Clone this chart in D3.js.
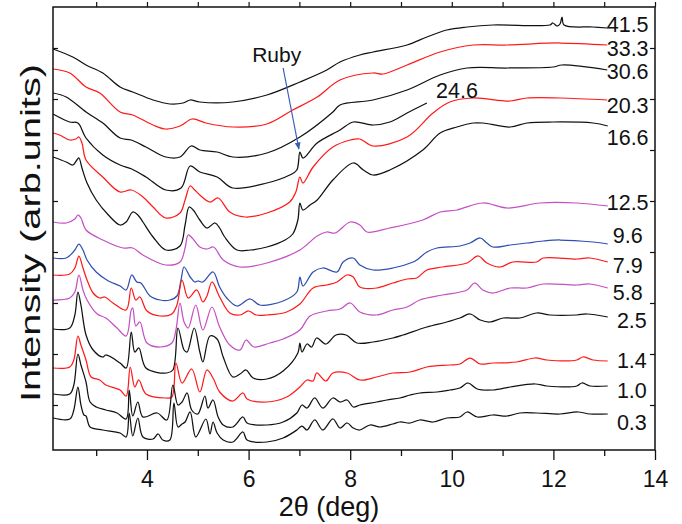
<!DOCTYPE html>
<html><head><meta charset="utf-8">
<script src="https://cdn.jsdelivr.net/npm/d3@7"></script>
<style>body{margin:0;background:#fff}svg{display:block}</style>
</head><body>
<svg id="c" width="682" height="524"></svg>
<script>
// ---------- DATA (2θ in deg, intensity in arb. units) ----------
const pressures = ["41.5","33.3","30.6","24.6","20.3","16.6","12.5","9.6","7.9","5.8","2.5","1.4","1.0","0.3"];
const xTickLabels = [4, 6, 8, 10, 12, 14];
const xMinorTicks = [3, 5, 7, 9, 11, 13];
const yTicks = [51, 102, 153, 204, 255, 306, 357, 408];

const p41_5 = [[2.15,407],[2.54,399],[2.8,391],[3.13,383],[3.47,369],[3.72,364],[4.12,356],[4.45,352],[4.71,353],[4.85,356],[5.04,354],[5.69,354],[6.36,361],[7.01,374],[7.54,386],[7.8,394],[8.19,401],[8.45,404],[9.12,411],[9.51,419],[9.9,426],[10.3,429],[10.81,431],[11.93,431],[11.99,433],[12.07,430],[12.13,432],[12.17,439],[12.21,431],[12.78,429],[13.07,428]];
const p33_3 = [[2.15,387],[2.48,383],[2.8,369],[3.07,363],[3.47,344],[3.72,341],[4.12,331],[4.37,327],[4.65,330],[4.89,337],[5.16,333],[5.69,329],[6.36,332],[6.87,346],[7.35,359],[7.8,376],[8.45,383],[8.65,382],[9.12,391],[9.77,404],[10.42,411],[11.09,411],[12.13,413],[13.06,411]];
const p30_6 = [[2.15,363],[2.41,359],[2.8,344],[3.13,333],[3.47,318],[3.69,316],[3.98,309],[4.37,299],[4.65,299],[4.87,310],[5.04,306],[5.38,304],[5.69,299],[6.36,303],[7.01,319],[7.66,344],[7.8,351],[8.45,356],[9.12,366],[9.77,381],[10.3,388],[11.09,388],[11.99,389],[12.17,391],[13.06,386]];
const p24_6 = [[2.15,342],[2.48,334],[2.64,333],[2.8,318],[3.13,301],[3.47,291],[3.7,287],[3.98,279],[4.37,266],[4.67,268],[4.85,290],[5.04,284],[5.38,279],[5.69,268],[6.36,273],[6.81,281],[6.95,286],[7.01,304],[7.07,298],[7.35,313],[7.8,326],[8.06,334],[8.45,331],[8.78,334],[9.12,343],[9.51,353]];
const p20_3 = [[2.15,323],[2.28,321],[2.48,316],[2.6,317],[2.66,319],[2.72,313],[2.8,296],[3.13,279],[3.47,264],[3.69,266],[3.92,259],[4.12,249],[4.37,238],[4.65,243],[4.75,256],[4.85,270],[4.94,266],[5.04,261],[5.24,254],[5.4,258],[5.63,244],[5.93,239],[6.36,243],[6.81,254],[6.93,264],[7.01,279],[7.07,273],[7.27,289],[7.66,309],[8.0,316],[8.19,317],[8.45,310],[9.12,319],[9.63,343],[9.96,354],[10.42,358],[11.15,355],[11.48,358],[12.13,358],[13.06,356]];
const p16_6 = [[2.15,299],[2.41,294],[2.54,291],[2.62,296],[2.66,298],[2.72,288],[2.82,273],[3.0,256],[3.24,241],[3.47,231],[3.59,234],[3.72,244],[3.82,241],[3.92,234],[4.12,219],[4.37,206],[4.65,210],[4.75,231],[4.83,249],[4.91,246],[5.04,236],[5.18,228],[5.34,233],[5.43,228],[5.53,219],[5.77,206],[6.03,206],[6.36,209],[6.72,216],[6.87,222],[6.97,236],[7.01,253],[7.07,246],[7.21,251],[7.35,256],[7.66,276],[8.06,293],[8.26,286],[8.45,281],[8.78,286],[9.43,306],[9.77,323],[10.1,329],[10.42,333],[10.61,333],[11.15,329],[11.48,333],[11.99,334],[12.78,333],[13.07,330]];
const p12_5 = [[2.15,234],[2.41,233],[2.58,237],[2.64,241],[2.7,238],[2.8,226],[3.13,216],[3.53,208],[3.72,208],[3.92,201],[4.37,191],[4.65,194],[4.75,208],[4.81,221],[4.89,218],[5.04,209],[5.18,207],[5.31,209],[5.5,196],[5.83,189],[6.36,193],[7.01,206],[7.35,220],[7.54,224],[7.7,223],[8.0,234],[8.19,231],[8.33,224],[8.78,228],[9.43,236],[9.77,244],[10.1,246],[10.61,253],[11.09,248],[11.74,253],[12.46,253],[13.07,250]];
const p9_6 = [[2.15,198],[2.41,198],[2.58,206],[2.66,212],[2.74,206],[2.82,196],[3.0,184],[3.24,175],[3.47,170],[3.59,166],[3.7,181],[3.8,174],[3.88,173],[4.06,160],[4.26,156],[4.45,156],[4.59,160],[4.67,176],[4.73,189],[4.85,179],[4.94,174],[5.0,175],[5.1,174],[5.3,184],[5.43,169],[5.57,158],[5.77,150],[6.03,157],[6.22,151],[6.68,155],[6.95,164],[7.01,179],[7.07,170],[7.27,184],[7.46,188],[7.74,184],[7.86,194],[8.06,198],[8.19,191],[8.45,186],[8.84,188],[9.24,194],[9.31,196],[9.51,204],[9.71,208],[10.16,210],[10.36,213],[10.56,218],[10.69,213],[10.81,209],[11.15,211],[11.48,213],[11.8,215],[12.13,216],[12.78,214],[13.07,212]];
const p7_9 = [[2.15,181],[2.48,182],[2.58,188],[2.66,200],[2.74,188],[2.82,176],[2.94,163],[3.07,158],[3.17,159],[3.33,153],[3.59,146],[3.69,168],[3.78,156],[3.86,159],[4.0,145],[4.26,140],[4.49,142],[4.59,151],[4.69,176],[4.81,158],[4.98,166],[5.1,154],[5.18,160],[5.28,174],[5.43,159],[5.63,143],[5.83,141],[6.0,145],[6.15,141],[6.36,141],[6.75,144],[7.01,152],[7.27,168],[7.54,171],[7.74,174],[7.94,181],[8.06,179],[8.19,169],[8.52,168],[8.84,173],[9.12,177],[9.31,178],[9.51,186],[9.82,189],[10.3,193],[10.52,200],[10.69,193],[10.95,189],[11.2,194],[11.67,194],[11.8,198],[12.46,197],[12.72,198],[13.07,194]];
const p5_8 = [[2.15,156],[2.48,158],[2.58,164],[2.66,181],[2.74,166],[2.82,156],[3.02,142],[3.19,138],[3.41,128],[3.59,120],[3.69,146],[3.72,148],[3.78,130],[3.86,134],[4.0,113],[4.26,109],[4.49,113],[4.57,126],[4.65,153],[4.73,134],[4.81,128],[4.96,151],[5.1,126],[5.28,149],[5.43,129],[5.63,111],[5.83,106],[5.95,116],[6.1,109],[6.42,113],[6.68,117],[7.01,126],[7.21,140],[7.54,145],[7.8,147],[8.0,153],[8.19,144],[8.52,141],[8.84,146],[9.12,149],[9.37,156],[9.82,161],[10.3,166],[10.45,173],[10.61,166],[10.81,163],[11.15,168],[11.48,168],[11.8,172],[12.46,171],[12.72,172],[13.07,168]];
const p2_5 = [[2.15,127],[2.48,128],[2.58,141],[2.64,164],[2.7,151],[2.8,121],[2.94,106],[3.13,99],[3.19,101],[3.47,93],[3.59,88],[3.69,124],[3.76,104],[3.84,108],[3.98,88],[4.39,83],[4.51,86],[4.61,128],[4.73,106],[4.79,104],[4.93,128],[5.04,104],[5.1,94],[5.24,120],[5.38,117],[5.5,99],[5.69,79],[5.83,82],[5.95,86],[6.09,78],[6.36,77],[6.68,85],[6.97,103],[7.01,113],[7.05,104],[7.15,112],[7.24,109],[7.34,118],[7.52,112],[7.72,121],[7.92,121],[8.13,113],[8.45,114],[8.84,118],[9.04,121],[9.51,129],[9.9,134],[10.16,138],[10.36,142],[10.56,136],[10.75,134],[11.01,138],[11.34,138],[11.67,143],[11.93,141],[12.46,141],[12.66,142],[13.07,139]];
const p1_4 = [[2.15,88],[2.48,89],[2.56,96],[2.64,120],[2.7,111],[2.8,96],[2.9,79],[3.07,76],[3.19,71],[3.47,66],[3.59,60],[3.67,89],[3.76,69],[3.84,76],[3.98,62],[4.37,58],[4.49,59],[4.57,93],[4.69,73],[4.88,87],[5.04,64],[5.18,86],[5.31,77],[5.43,64],[5.69,55],[5.89,63],[5.97,57],[6.36,54],[6.75,59],[7.01,69],[7.15,76],[7.27,75],[7.34,83],[7.52,75],[7.66,83],[7.94,83],[8.19,76],[8.52,79],[8.84,83],[9.18,84],[9.51,89],[9.96,91],[10.16,92],[10.36,98],[10.56,92],[10.81,93],[11.28,94],[11.64,98],[11.87,96],[12.46,96],[12.58,99],[12.78,96],[13.07,95]];
const p1_0 = [[2.15,62],[2.48,62],[2.56,71],[2.64,102],[2.7,91],[2.8,74],[2.88,54],[3.0,49],[3.19,46],[3.41,43],[3.59,37],[3.65,66],[3.72,40],[3.82,54],[3.92,39],[4.2,43],[4.39,36],[4.51,71],[4.61,51],[4.69,54],[4.79,63],[4.88,46],[5.0,42],[5.14,60],[5.2,48],[5.3,56],[5.4,39],[5.5,31],[5.69,29],[5.89,39],[5.97,33],[6.36,31],[6.68,34],[6.95,43],[7.05,51],[7.15,48],[7.3,58],[7.46,48],[7.66,58],[7.8,54],[7.94,56],[8.06,49],[8.19,51],[8.52,54],[8.72,56],[8.98,58],[9.18,61],[9.37,63],[9.71,64],[9.96,66],[10.16,68],[10.32,73],[10.5,67],[10.81,66],[11.15,69],[11.64,72],[11.87,70],[12.46,70],[12.56,73],[12.72,70],[13.07,70]];
const p0_3 = [[2.15,38],[2.48,37],[2.56,46],[2.64,69],[2.7,51],[2.76,41],[2.8,40],[2.88,29],[3.13,26],[3.47,23],[3.59,19],[3.65,43],[3.72,20],[3.82,38],[3.92,19],[4.12,17],[4.22,22],[4.31,16],[4.45,16],[4.53,53],[4.61,29],[4.69,32],[4.75,34],[4.85,44],[4.96,19],[5.16,37],[5.24,22],[5.3,34],[5.38,23],[5.5,16],[5.69,14],[5.89,24],[5.97,16],[6.36,14],[6.68,18],[6.95,26],[7.05,30],[7.15,26],[7.3,36],[7.46,26],[7.66,37],[7.8,28],[7.94,33],[8.06,28],[8.19,26],[8.39,31],[8.58,29],[8.84,32],[8.98,34],[9.18,33],[9.37,36],[9.63,34],[9.9,38],[10.16,39],[10.3,44],[10.5,39],[10.81,41],[11.09,40],[11.34,43],[11.67,43],[12.13,42],[12.48,44],[12.72,42],[13.07,42]];

const seriesValues = [p41_5,p33_3,p30_6,p24_6,p20_3,p16_6,p12_5,p9_6,p7_9,p5_8,p2_5,p1_4,p1_0,p0_3];

// ---------- STYLE / LAYOUT ----------
const K="#111", R="#ff1a1a", P="#c450c4", B="#2f4fb0";
const seriesColors = [K,R,K,K,R,K,P,B,R,P,K,R,K,K];
// label anchor points in data units (2θ, intensity)
const labelPos = [[13.05,432],[13.05,408],[13.05,385],[9.69,366],[13.05,351],[13.05,319],[13.05,254],[13.17,221],[13.17,191],[13.17,164],[13.25,136],[13.25,96],[13.25,66],[13.25,34]];

const m={l:53,r:655,t:7,b:450};
const svg=d3.select("#c");
const x=d3.scaleLinear().domain([2.15,14]).range([m.l,m.r]);
const y=d3.scaleLinear().domain([6,449]).range([m.b,m.t]);
const font="Liberation Sans, Arial, Helvetica, sans-serif";

const line=d3.line().x(d=>x(d[0])).y(d=>y(d[1])).curve(d3.curveCatmullRom.alpha(0.5));
const g=svg.append("g");
seriesValues.forEach((s,i)=>{
  g.append("path").attr("d",line(s)).attr("fill","none")
   .attr("stroke",seriesColors[i]).attr("stroke-width",1.25).attr("stroke-linejoin","round");
});

// labels
pressures.forEach((p,i)=>{
  svg.append("text").attr("x",x(labelPos[i][0])).attr("y",y(labelPos[i][1])).attr("dy","0.36em")
    .attr("font-family",font).attr("font-size",21.5).attr("fill","#111").text(p);
});

// frame
svg.append("rect").attr("x",m.l).attr("y",m.t).attr("width",m.r-m.l).attr("height",m.b-m.t)
  .attr("fill","none").attr("stroke","#111").attr("stroke-width",1.5);

// bottom axis
const xb=d3.axisBottom(x).tickValues(xTickLabels).tickSize(10).tickFormat(d3.format("d"));
const gb=svg.append("g").attr("transform",`translate(0,${m.b})`).call(xb);
gb.select(".domain").remove();
gb.selectAll("line").attr("stroke","#111").attr("stroke-width",1.3);
gb.selectAll("text").attr("font-family",font).attr("font-size",23).attr("fill","#111").attr("y",37).attr("dy",0);
const xm=d3.axisBottom(x).tickValues(xMinorTicks).tickSize(6).tickFormat("");
const gm=svg.append("g").attr("transform",`translate(0,${m.b})`).call(xm);
gm.select(".domain").remove(); gm.selectAll("line").attr("stroke","#111").attr("stroke-width",1.3);
// top ticks
const xt=d3.axisTop(x).tickValues(xMinorTicks.concat(xTickLabels)).tickSize(5).tickFormat("");
const gt=svg.append("g").attr("transform",`translate(0,${m.t})`).call(xt);
gt.select(".domain").remove(); gt.selectAll("line").attr("stroke","#111").attr("stroke-width",1.2);
// left / right ticks (inward)
const yl=d3.axisLeft(y).tickValues(yTicks).tickSize(-5).tickFormat("");
const gl=svg.append("g").attr("transform",`translate(${m.l},0)`).call(yl);
gl.select(".domain").remove(); gl.selectAll("line").attr("stroke","#111").attr("stroke-width",1.2);
const yr=d3.axisRight(y).tickValues(yTicks).tickSize(-5).tickFormat("");
const gr=svg.append("g").attr("transform",`translate(${m.r},0)`).call(yr);
gr.select(".domain").remove(); gr.selectAll("line").attr("stroke","#111").attr("stroke-width",1.2);

// axis titles
svg.append("text").attr("x",329).attr("y",516).attr("text-anchor","middle")
  .attr("font-family",font).attr("font-size",27).attr("fill","#111").text("2θ (deg)");
svg.append("text").attr("transform","translate(40,233) rotate(-90)").attr("text-anchor","middle")
  .attr("font-family",font).attr("font-size",27).attr("fill","#111")
  .attr("textLength",338).attr("lengthAdjust","spacingAndGlyphs").text("Intensity (arb.units)");

// Ruby annotation
const ruby={tx:6.07,ty:394,ax0:6.68,ay0:388,ax1:6.99,ay1:307};
svg.append("text").attr("x",x(ruby.tx)).attr("y",y(ruby.ty)).attr("font-family",font)
  .attr("font-size",21).attr("fill","#111").text("Ruby");
svg.append("defs").append("marker").attr("id","ah").attr("viewBox","0 0 10 10").attr("refX",9).attr("refY",5)
  .attr("markerWidth",6).attr("markerHeight",6).attr("orient","auto")
  .append("path").attr("d","M0,1 L10,5 L0,9 z").attr("fill","#3a5db8");
svg.append("line").attr("x1",x(ruby.ax0)).attr("y1",y(ruby.ay0)).attr("x2",x(ruby.ax1)).attr("y2",y(ruby.ay1))
  .attr("stroke","#3a5db8").attr("stroke-width",1.2).attr("marker-end","url(#ah)");
</script>
</body></html>
